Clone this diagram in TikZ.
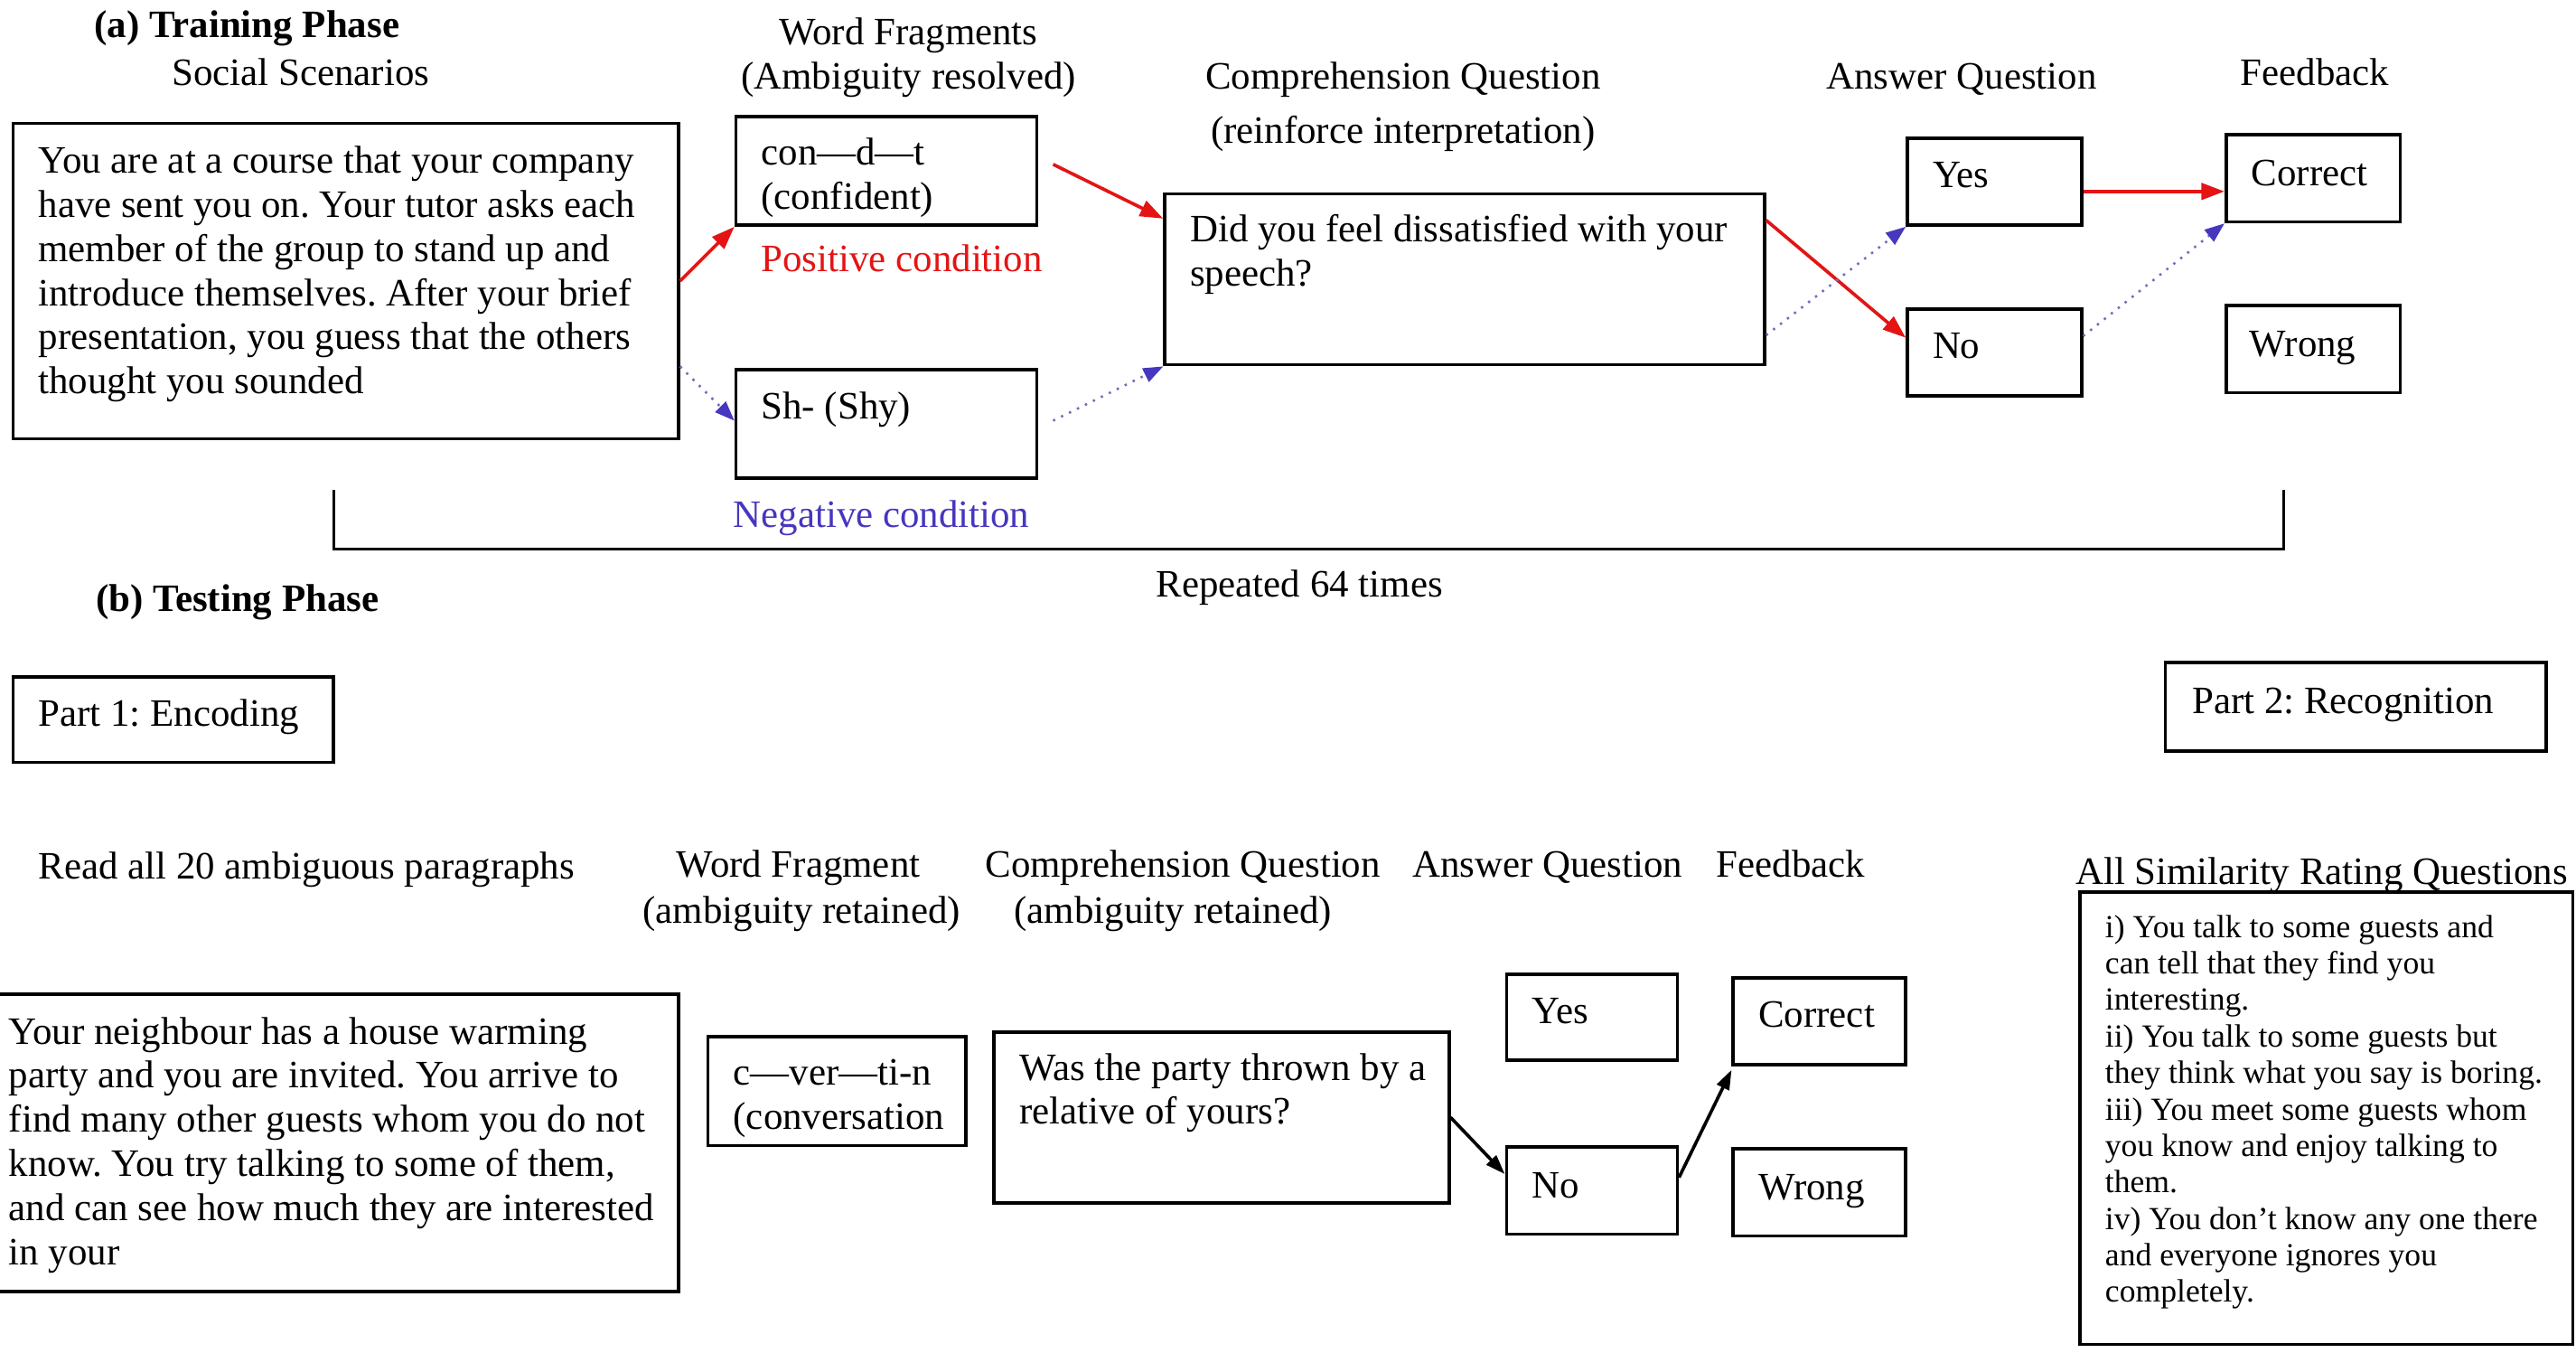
\documentclass[tikz,border=0pt]{standalone}
\usepackage{fontspec}
\setmainfont{Liberation Serif}
\usetikzlibrary{arrows.meta,calc,fit}
\definecolor{posred}{RGB}{228,20,20}
\definecolor{negblue}{RGB}{70,55,190}
\definecolor{dotblue}{RGB}{110,110,190}
\frenchspacing
\begin{document}
\begin{tikzpicture}[x=0.5pt,y=-0.5pt,
  frame/.style={draw, line width=1pt, inner sep=0pt},
  txt/.style={inner sep=0pt, font=\fontsize{11.8}{13.45}\selectfont},
  bl/.style={txt, anchor=base west},
  bc/.style={txt, anchor=base},
  para/.style={txt, anchor=north west, align=left},
  smallpara/.style={inner sep=0pt, anchor=north west, align=left, font=\fontsize{9.8}{11.1}\selectfont},
  redarr/.style={draw=posred, line width=1pt, -{Triangle[length=7pt,width=5pt]}},
  bluearr/.style={draw=dotblue, line width=0.7pt, dotted, -{Triangle[length=6pt,width=4.5pt,fill=negblue,color=negblue]}},
  blkarr/.style={draw=black, line width=1pt, -{Triangle[length=6pt,width=4pt]}}]
\clip (0,0) rectangle (1568,823);
\fill[white] (0,0) rectangle (1568,823);

% ---------- (a) Training phase ----------
\node[bl, font=\fontsize{11.8}{13.45}\selectfont\bfseries] (ta) at (57,23) {(a) Training Phase};
\node[bc] (hsoc) at (183,52) {Social Scenarios};
\node[bc] (hwf1) at (553,27) {Word Fragments};
\node[bc] (hwf2) at (553,54) {(Ambiguity resolved)};
\node[bc] (hcq1) at (854,54) {Comprehension Question};
\node[bc] (hcq2) at (854,87) {(reinforce interpretation)};
\node[bc] (haq) at (1194,54) {Answer Question};
\node[bc] (hfb) at (1409,52) {Feedback};

\node[frame, fit={(8,75)(413,267)}] (scen) {};
\node[para] (scentxt) at (23,86) {\strut You are at a course that your company\\
have sent you on. Your tutor asks each\\
member of the group to stand up and\\
introduce themselves. After your brief\\
presentation, you guess that the others\\
thought you sounded};

\node[frame, fit={(448,71)(631,137)}] (con) {};
\node[para] (contxt) at (463,81) {\strut con—d—t\\(confident)};
\node[bl, text=posred] (pos) at (463,165) {Positive condition};

\node[frame, fit={(448,225)(631,291)}] (shy) {};
\node[bl] (shytxt) at (463,255) {Sh- (Shy)};
\node[bl, text=negblue] (neg) at (446,321) {Negative condition};

\node[frame, fit={(709,118)(1074,222)}] (did) {};
\node[para] (didtxt) at (724,128) {\strut Did you feel dissatisfied with your\\speech?};

\node[frame, fit={(1161,84)(1267,137)}] (yesa) {};
\node[bl] at (1176,114) {Yes};
\node[frame, fit={(1161,188)(1267,241)}] (noa) {};
\node[bl] at (1176,218) {No};

\node[frame, fit={(1355,82)(1461,135)}] (cora) {};
\node[bl] at (1370,113) {Correct};
\node[frame, fit={(1355,186)(1461,239)}] (wroa) {};
\node[bl] at (1369,217) {Wrong};

% connectors, positive route (red) and negative route (blue)
\draw[redarr] (scen.east) -- (con.south west);
\draw[bluearr] ([shift={(0,-45)}]scen.south east) -- ([shift={(0,-2)}]shy.west);
\draw[redarr] ([shift={(9,-4)}]con.east) -- ([shift={(0,16)}]did.north west);
\draw[bluearr] ([shift={(9,-2)}]shy.east) -- (did.south west);
\draw[redarr] ([shift={(0,17)}]did.north east) -- ([shift={(0,-9)}]noa.west);
\draw[bluearr] ([shift={(0,-19)}]did.south east) -- (yesa.south west);
\draw[redarr] ([shift={(0,6)}]yesa.east) coordinate (ry) -- (cora.west |- ry);
\draw[bluearr] ([shift={(0,-10)}]noa.east) -- (cora.south west);

% repetition bracket
\coordinate (brl) at (203,298);
\coordinate (brr) at (1390,298);
\draw[line width=0.8pt] (brl) -- (brl |- 0,334) -- (brr |- 0,334) -- (brr);
\node[bc] (rep) at (791,363) {Repeated 64 times};

% ---------- (b) Testing phase ----------
\node[bl, font=\fontsize{11.8}{13.45}\selectfont\bfseries] (tb) at (58,372) {(b) Testing Phase};
\node[frame, fit={(8,412)(203,464)}] (p1) {};
\node[bl] at (23,442) {Part 1: Encoding};
\node[frame, fit={(1318,403)(1550,457)}] (p2) {};
\node[bl] at (1334,434) {Part 2: Recognition};

\node[bl] (hread) at (23,535) {Read all 20 ambiguous paragraphs};
\node[bc] (hwfb1) at (486,534) {Word Fragment};
\node[bc] (hwfb2) at (488,562) {(ambiguity retained)};
\node[bc] (hcqb1) at (720,534) {Comprehension Question};
\node[bc] (hcqb2) at (714,562) {(ambiguity retained)};
\node[bc] (haqb) at (942,534) {Answer Question};
\node[bc] (hfbb) at (1090,534) {Feedback};
\node[bl] (hsim) at (1263,538) {All Similarity Rating Questions};

\node[frame, fit={(-10,605)(413,786)}] (nei) {};
\node[para] (neitxt) at (5,616) {\strut Your neighbour has a house warming\\
party and you are invited. You arrive to\\
find many other guests whom you do not\\
know. You try talking to some of them,\\
and can see how much they are interested\\
in your};

\node[frame, fit={(431,631)(588,697)}] (conv) {};
\node[para] (convtxt) at (446,641) {\strut c—ver—ti-n\\(conversation};

\node[frame, fit={(605,628)(882,732)}] (was) {};
\node[para] (wastxt) at (620,638) {\strut Was the party thrown by a\\relative of yours?};

\node[frame, fit={(917,593)(1021,645)}] (yesb) {};
\node[bl] at (932,623) {Yes};
\node[frame, fit={(917,698)(1021,751)}] (nob) {};
\node[bl] at (932,729) {No};
\node[frame, fit={(1055,595)(1160,648)}] (corb) {};
\node[bl] at (1070,625) {Correct};
\node[frame, fit={(1055,699)(1160,752)}] (wrob) {};
\node[bl] at (1070,730) {Wrong};

\draw[blkarr] (was.east) -- ([shift={(0,-10)}]nob.west);
\draw[blkarr] ([shift={(0,-8)}]nob.east) -- ([shift={(0,2)}]corb.south west);

\node[frame, fit={(1266,543)(1566,818)}] (sim) {};
\node[smallpara] (simtxt) at (1281,554.5) {\strut i) You talk to some guests and\\
can tell that they find you\\
interesting.\\
ii) You talk to some guests but\\
they think what you say is boring.\\
iii) You meet some guests whom\\
you know and enjoy talking to\\
them.\\
iv) You don’t know any one there\\
and everyone ignores you\\
completely.};
\end{tikzpicture}
\end{document}
